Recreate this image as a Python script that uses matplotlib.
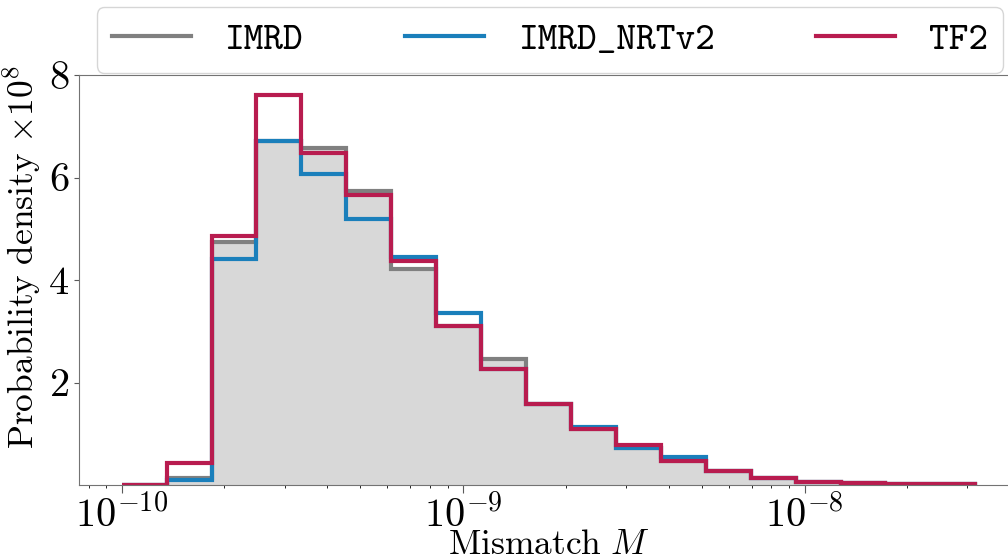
import numpy as np
import matplotlib
matplotlib.use('Agg')
import matplotlib.pyplot as plt
from matplotlib.ticker import FuncFormatter, FixedLocator, NullFormatter
from matplotlib.lines import Line2D

plt.rcParams['mathtext.fontset'] = 'cm'
plt.rcParams['font.family'] = ['cmr10', 'DejaVu Serif']
plt.rcParams['axes.formatter.use_mathtext'] = True

# log-spaced bins, 10^-10 .. 10^-7.5
edges = np.logspace(-10, -7.5, 20)

# probability density x 1e8
imrd = [0.0, 0.14, 4.75, 6.72, 6.57, 5.74, 4.21, 3.10, 2.46, 1.59,
        1.09, 0.72, 0.47, 0.28, 0.13, 0.065, 0.04, 0.025, 0.015]
imrd_nrtv2 = [0.0, 0.10, 4.41, 6.71, 6.07, 5.20, 4.44, 3.35, 2.26, 1.59,
              1.14, 0.72, 0.55, 0.28, 0.13, 0.065, 0.04, 0.025, 0.015]
tf2 = [0.01, 0.42, 4.86, 7.61, 6.47, 5.66, 4.37, 3.11, 2.26, 1.59,
       1.09, 0.78, 0.47, 0.28, 0.13, 0.065, 0.04, 0.025, 0.015]
labels = ['IMRD', 'IMRD_NRTv2', 'TF2']
colors = ['#808080', '#1a7fbb', '#b81c4f']
xticks = [1e-10, 1e-9, 1e-8]

fig = plt.figure(figsize=(10.08, 5.6), dpi=100)
ax = fig.add_axes([0.0784, 0.1339, 0.9315, 0.7321])

ax.stairs(imrd, edges, fill=True, color='#d8d8d8', lw=0)
for vals, lab, c in zip([imrd, imrd_nrtv2, tf2], labels, colors):
    ax.stairs(vals, edges, color=c, lw=3, label=lab)

ax.set_xscale('log')
ax.set_xlim(10**-10.125, 10**-7.375)
ax.set_ylim(0, 8)
ax.set_yticks([2, 4, 6, 8])
ax.set_yticklabels([r'$2$', r'$4$', r'$6$', r'$8$'])
ax.xaxis.set_major_locator(FixedLocator(xticks))
ax.xaxis.set_major_formatter(FuncFormatter(lambda v, p: r'$10^{%d}$' % round(np.log10(v))))
ax.xaxis.set_minor_formatter(NullFormatter())
ax.tick_params(labelsize=29, color='0.35')
ax.tick_params(axis='x', which='major', length=6, pad=1)
for s in ax.spines.values():
    s.set_color('0.45')

ax.set_xlabel(r'$\mathrm{Mismatch}\ M$', fontsize=25.5, labelpad=-4)
ax.set_ylabel(r'$\mathrm{Probability\ density}\ {\times}10^{8}$', fontsize=25.5)
ax.yaxis.set_label_coords(-0.038, 0.556)

handles = [Line2D([], [], color=c, lw=3) for c in colors]
fig.legend(handles, labels, loc='center', ncol=3, mode='expand',
           bbox_to_anchor=(0.0962, 0.8714, 0.8988, 0.1143),
           bbox_transform=fig.transFigure, borderaxespad=0,
           prop={'family': 'cmtt10', 'size': 27},
           handlelength=2.1, handletextpad=0.9, borderpad=0.4)

fig.savefig('out.png', dpi=100)
